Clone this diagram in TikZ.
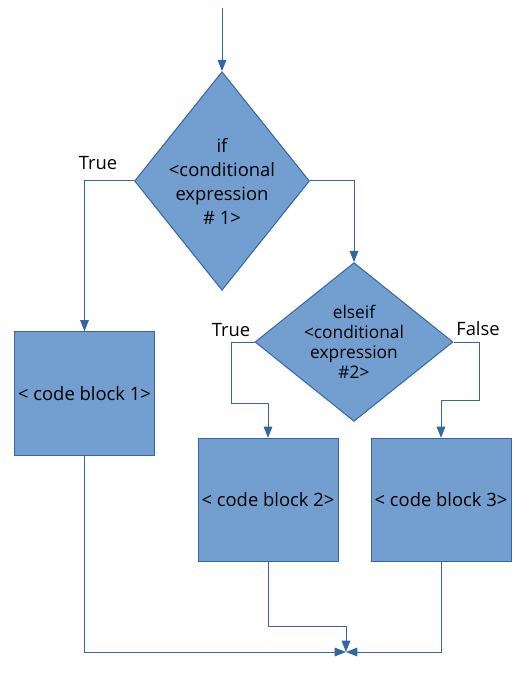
\documentclass[tikz,border=0pt]{standalone}
\usepackage{fontspec}
\setmainfont{Open Sans}
\usetikzlibrary{shapes.geometric,arrows.meta}
\definecolor{boxfill}{HTML}{729FCF}
\definecolor{boxline}{HTML}{3465A4}
\tikzset{
  block/.style={draw=boxline,fill=boxfill,line width=0.75pt,inner sep=0pt,
    minimum width=105pt,minimum height=92.5pt,align=center},
  decision/.style={draw=boxline,fill=boxfill,line width=0.75pt,shape=diamond,
    inner sep=0pt,align=center},
  flow/.style={draw=boxline,line width=0.75pt,-{Triangle[length=8.5pt,width=6.5pt]}},
  tag/.style={inner sep=0pt}
}
\begin{document}
\begin{tikzpicture}[x=0.75pt,y=-0.75pt]
                    \useasboundingbox (0,0) rectangle (529,673);
                    {\fontsize{13.8pt}{18pt}\selectfont

                    % Start of the flow
                    \coordinate (start) at (222,8);%

                    % Marking decision if
                    \node [decision,aspect=0.8,minimum width=131pt,minimum height=163pt] (if1) at (222,181)
                      {if\\<conditional\\expression\\\# 1>};%

                    % Marking decision elseif
                    \node [decision,aspect=1.25,minimum width=148.5pt,minimum height=119pt,
                      font=\fontsize{13pt}{15pt}\selectfont] (elif) at (354,342)
                      {elseif\\<conditional\\expression\\\#2>};%

                    % Marking code blocks
                    \node [block] (block1) at (84.5,393.5) {< code block 1>};%
                    \node [block] (block2) at (268,500) {< code block 2>};%
                    \node [block] (block3) at (441,500) {< code block 3>};%

                    % Marking branch labels
                    \node [tag] (true1) at (98,163) {True};%
                    \node [tag] (true2) at (231,330) {True};%
                    \node [tag] (false2) at (478,329) {False};%

                    % Bend points
                    \coordinate (tbend) at (231,403);%
                    \coordinate (fbend) at (479,400);%
                    \coordinate (b2bend) at (268,626);%
                    \coordinate (join) at (346,652);%

                    % Drawing flow into if
                    \draw [flow] (start) -- (if1.north);%

                    % Drawing branches of if
                    \draw [flow] (if1.west) -| (block1.north);%
                    \draw [flow] (if1.east) -| (elif.north);%

                    % Drawing branches of elseif
                    \draw [flow] (elif.west) -| (tbend) -| (block2.north);%
                    \draw [flow] (elif.east) -| (fbend) -| (block3.north);%

                    % Drawing flow into join
                    \draw [flow] (block1.south) |- (join);%
                    \draw [flow] (block2.south) -- (b2bend) -| (join);%
                    \draw [flow] (block3.south) |- (join);%
                    }
\end{tikzpicture}
\end{document}
